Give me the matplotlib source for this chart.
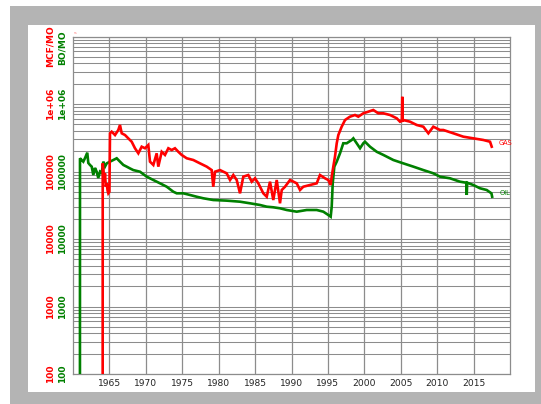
import matplotlib
matplotlib.use('Agg')
import matplotlib.pyplot as plt
from matplotlib.patches import Rectangle
from matplotlib.ticker import LogLocator, NullFormatter, FixedLocator, NullLocator
import matplotlib.transforms as mtransforms

# ---------------- data ----------------
oil_years = [1960.95, 1960.96, 1961.19, 1961.41, 1961.65, 1961.96, 1962.10, 1962.33, 1962.57,
             1962.79, 1963.02, 1963.25, 1963.47, 1963.71, 1963.94, 1964.16, 1964.39, 1964.63,
             1965.08, 1965.53, 1966.00, 1966.45, 1966.91, 1967.37, 1967.83, 1968.28, 1969.20,
             1970.12, 1971.03, 1971.95, 1972.87, 1973.77, 1974.24, 1975.15, 1976.06, 1976.98,
             1977.89, 1979.26, 1981.10, 1982.93, 1984.30, 1985.68, 1986.60, 1987.50, 1988.42,
             1989.34, 1990.72, 1992.09, 1993.46, 1994.37, 1995.05, 1995.38, 1995.52, 1995.66,
             1995.88, 1996.21, 1996.66, 1997.11, 1997.58, 1998.27, 1998.49, 1998.95, 1999.41,
             1999.86, 2000.09, 2000.78, 2001.70, 2002.61, 2003.98, 2005.35, 2006.73, 2008.10,
             2009.47, 2010.39, 2011.76, 2013.14, 2014.00, 2014.06, 2014.12, 2014.96, 2015.88,
             2016.80, 2017.45, 2017.55]
oil_values = [1, 157000, 148000, 140000, 158000, 190000, 134000, 125000, 118000,
              88700, 113000, 99300, 80100, 99300, 95000, 140000, 118000, 132000,
              140000, 148000, 157000, 140000, 125000, 118000, 111000, 105000, 99300,
              83800, 74800, 66800, 59500, 50200, 47500, 47500, 44900, 42300,
              40100, 37800, 37000, 35700, 33800, 31900, 30100, 29500, 28500,
              26900, 25400, 26900, 26900, 25400, 22700, 21400, 30100, 66800,
              118000, 140000, 186000, 262000, 262000, 293000, 310000, 262000, 221000,
              262000, 276000, 233000, 196000, 176000, 148000, 132000, 118000, 105000,
              94000, 83800, 79300, 70600, 68200, 44900, 68200, 63100, 56400,
              53200, 47500, 42300]

gas_years = [1964.07, 1964.08, 1964.18, 1964.30, 1964.39, 1964.50, 1964.63, 1964.75, 1964.85,
             1965.00, 1965.08, 1965.31, 1965.77, 1966.22, 1966.45, 1966.69, 1967.14, 1967.59,
             1968.06, 1968.51, 1968.97, 1969.43, 1969.89, 1970.34, 1970.57, 1971.03, 1971.49,
             1971.71, 1972.18, 1972.63, 1973.09, 1973.55, 1974.00, 1974.46, 1974.92, 1975.61,
             1976.52, 1977.44, 1978.36, 1979.04, 1979.26, 1979.50, 1980.18, 1981.10, 1981.56,
             1982.01, 1982.48, 1982.93, 1983.38, 1984.07, 1984.54, 1984.99, 1985.44, 1985.68,
             1986.13, 1986.60, 1987.05, 1987.50, 1987.97, 1988.42, 1988.66, 1989.11, 1989.80,
             1990.72, 1991.17, 1991.62, 1992.54, 1993.46, 1993.91, 1994.60, 1995.05, 1995.38,
             1995.52, 1995.74, 1995.97, 1996.21, 1996.43, 1996.89, 1997.35, 1998.03, 1998.72,
             1999.17, 1999.86, 2000.55, 2001.23, 2001.92, 2002.61, 2003.53, 2004.45, 2004.90,
             2005.15, 2005.21, 2005.27, 2005.35, 2006.27, 2007.19, 2008.10, 2008.79, 2009.47,
             2010.39, 2010.85, 2012.22, 2013.59, 2014.96, 2016.34, 2017.26, 2017.49]
gas_values = [1, 132000, 105000, 70000, 94000, 60000, 66800, 52000, 47500,
              50000, 368000, 389000, 347000, 412000, 489000, 368000, 347000, 310000,
              276000, 221000, 186000, 233000, 221000, 247000, 140000, 125000, 186000,
              118000, 196000, 176000, 221000, 208000, 221000, 196000, 176000, 157000,
              148000, 132000, 118000, 105000, 59500, 99300, 105000, 94000, 74800,
              88700, 74800, 47500, 83800, 88700, 70600, 79300, 66800, 59500,
              47500, 42300, 70600, 37800, 74800, 33800, 53200, 59500, 74800,
              66800, 53200, 59500, 63100, 66800, 88700, 79300, 74800, 63100,
              83800, 118000, 166000, 262000, 347000, 461000, 579000, 649000, 687000,
              649000, 728000, 770000, 815000, 728000, 728000, 687000, 614000, 547000,
              560000, 1280000, 560000, 579000, 547000, 489000, 461000, 368000, 461000,
              412000, 412000, 368000, 328000, 310000, 293000, 276000, 233000]

x_ticks = [1965, 1970, 1975, 1980, 1985, 1990, 1995, 2000, 2005, 2010, 2015]
y_ticks = [100, 1000, 10000, 100000, 1000000]
y_tick_labels = ['100', '1000', '10000', '100000', '1e+06']
gas_unit = 'MCF/MO'
oil_unit = 'BO/MO'
gas_name = 'GAS'
oil_name = 'OIL'

RED = '#ff0000'
GREEN = '#008000'
GRID = '#8c8c8c'

W, H = 541, 404
fig = plt.figure(figsize=(W / 100, H / 100), dpi=100)
fig.patch.set_facecolor('white')
fig.patches.append(Rectangle((10 / W, 0), 531 / W, 398 / H, transform=fig.transFigure,
                             facecolor='#b4b4b4', edgecolor='none', zorder=-2))
fig.patches.append(Rectangle((28 / W, 12 / H), 507 / W, 367 / H, transform=fig.transFigure,
                             facecolor='white', edgecolor='none', zorder=-1))

ax = fig.add_axes([73 / W, 30 / H, 437 / W, 337.5 / H])
ax.set_yscale('log')
ax.set_xlim(1960, 2020)
ax.set_ylim(100, 1e7)

ax.xaxis.set_major_locator(FixedLocator(x_ticks))
ax.xaxis.set_minor_locator(NullLocator())
ax.yaxis.set_major_locator(LogLocator(base=10, numticks=10))
ax.yaxis.set_minor_locator(LogLocator(base=10, subs=[2, 3, 4, 5, 6, 7, 8, 9], numticks=20))
ax.yaxis.set_minor_formatter(NullFormatter())
ax.tick_params(axis='both', which='both', length=0)
ax.tick_params(axis='y', labelleft=False)
ax.tick_params(axis='x', labelsize=6.6, labelcolor='#222222', pad=3.5)
ax.grid(True, axis='x', which='major', color=GRID, lw=0.9)
ax.grid(True, axis='y', which='both', color=GRID, lw=0.75)
ax.set_axisbelow(True)
for s in ax.spines.values():
    s.set_color(GRID)
    s.set_linewidth(0.9)

ax.plot(oil_years, oil_values, color=GREEN, lw=1.9, solid_joinstyle='miter', zorder=3)
ax.plot(gas_years, gas_values, color=RED, lw=1.9, solid_joinstyle='miter', zorder=4)

ax.text(oil_years[-1] + 1.0, oil_values[-2], oil_name, color=GREEN, fontsize=4.8,
        ha='left', va='center', clip_on=False)
ax.text(gas_years[-1] + 1.0, 264000, gas_name, color=RED, fontsize=4.8,
        ha='left', va='center', clip_on=False)

# y axis labels: two coloured columns
tr_red = ax.get_yaxis_transform() + mtransforms.ScaledTranslation(-22.5 / 100, 0, fig.dpi_scale_trans)
tr_green = ax.get_yaxis_transform() + mtransforms.ScaledTranslation(-10.5 / 100, 0, fig.dpi_scale_trans)
for v, lab in zip(y_ticks, y_tick_labels):
    ax.text(0, v, lab, transform=tr_red, color=RED, fontsize=6.5, fontweight='bold',
            rotation=90, ha='center', va='center', clip_on=False)
    ax.text(0, v, lab, transform=tr_green, color=GREEN, fontsize=6.5, fontweight='bold',
            rotation=90, ha='center', va='center', clip_on=False)
ax.text(0, 7.1e6, gas_unit, transform=tr_red, color=RED, fontsize=6.5, fontweight='bold',
        rotation=90, ha='center', va='center', clip_on=False)
ax.text(0, 6.9e6, oil_unit, transform=tr_green, color=GREEN, fontsize=6.5, fontweight='bold',
        rotation=90, ha='center', va='center', clip_on=False)
ax.text(0.002, 1.004, 'ss', transform=ax.transAxes, color='#ff8080', fontsize=2.5,
        ha='left', va='bottom', clip_on=False)

fig.savefig('out.png', dpi=100)
